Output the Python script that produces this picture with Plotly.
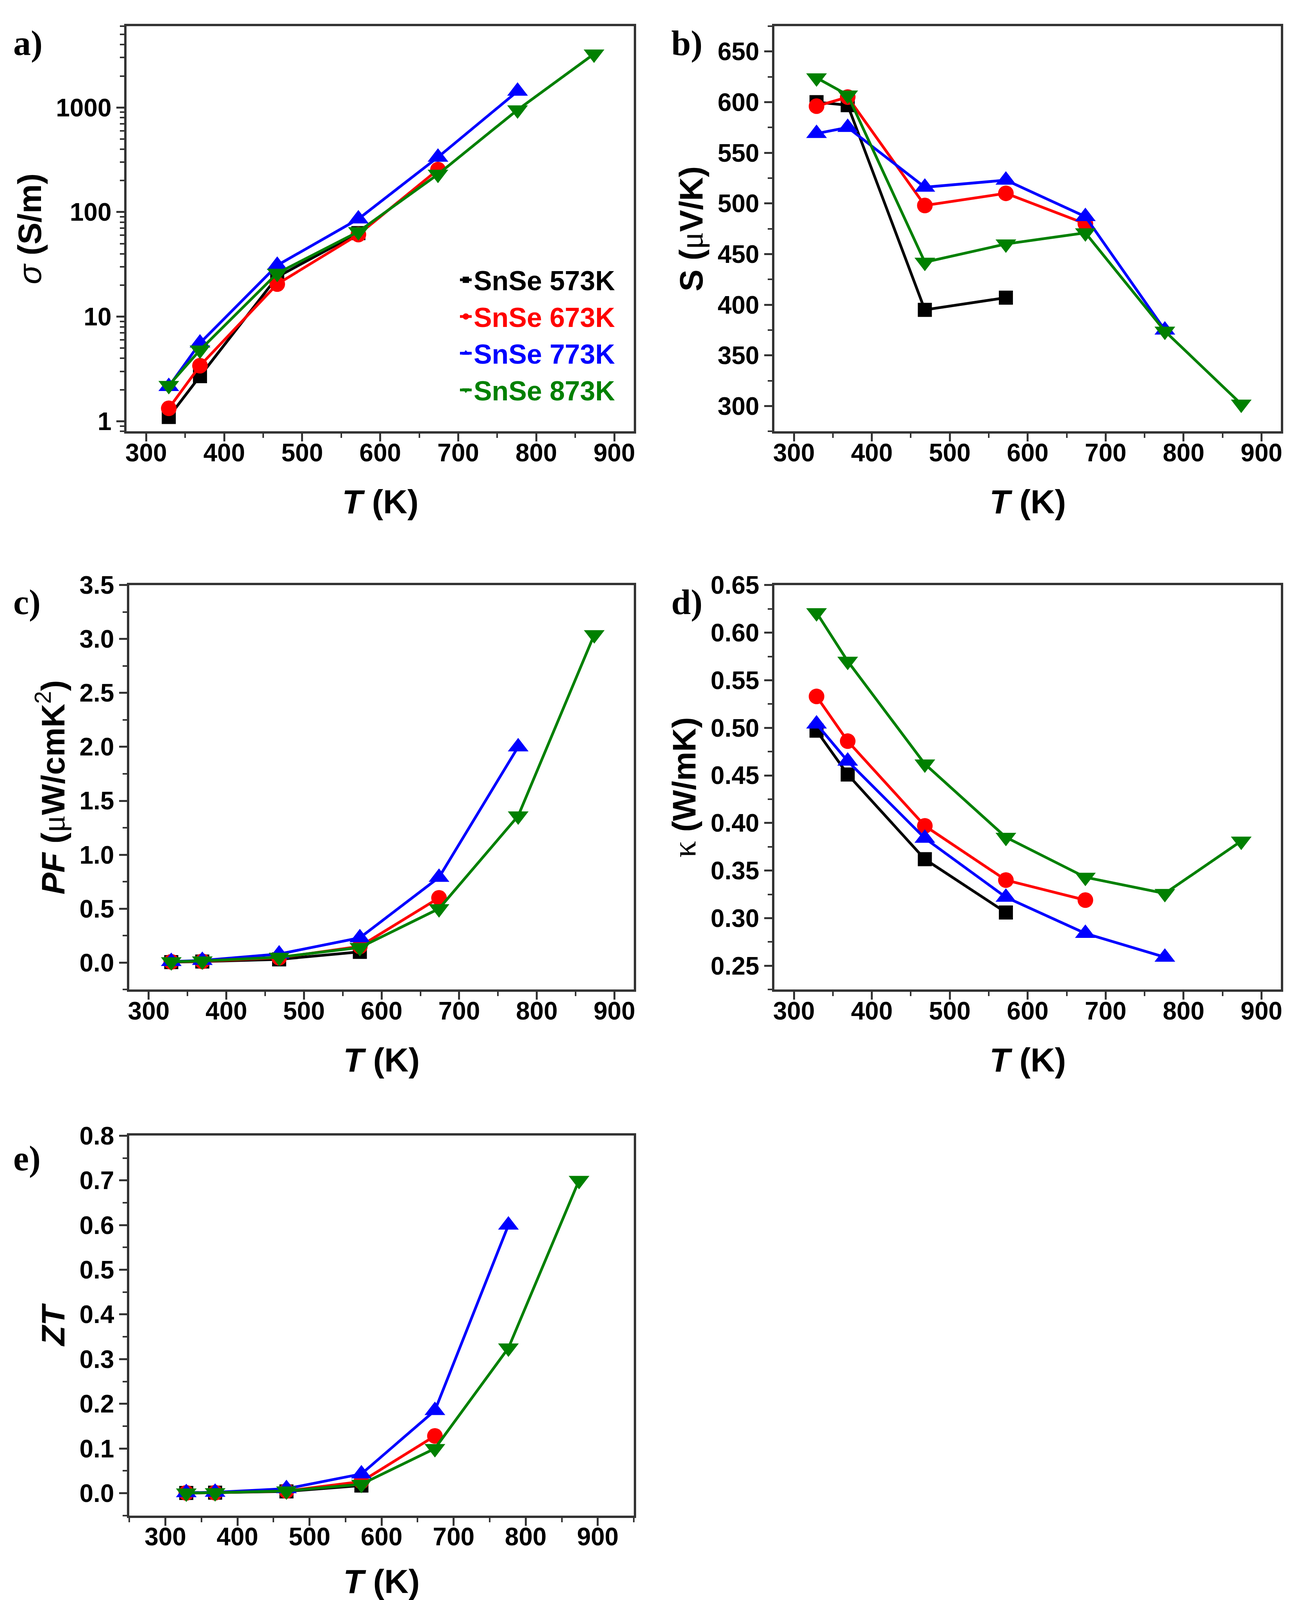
import plotly.graph_objects as go

# measurement temperatures (K)
T = [329, 369, 468, 572, 674, 776, 874]

names = ['SnSe 573K', 'SnSe 673K', 'SnSe 773K', 'SnSe 873K']
colors = ['#000000', '#ff0000', '#0000ff', '#008000']
symbols = ['square', 'circle', 'triangle-up', 'triangle-down']
msizes = [36, 40, 46, 46]

# a) electrical conductivity (S/m)
sigma_573 = [1.1, 2.7, 24, 63]
sigma_673 = [1.33, 3.4, 20.5, 61, 255]
sigma_773 = [2.15, 5.6, 31, 86, 335, 1430]
sigma_873 = [2.2, 4.8, 26, 65, 230, 950, 3250]

# b) Seebeck coefficient (uV/K)
S_573 = [600, 597, 395, 407]
S_673 = [596, 605, 498, 510, 480]
S_773 = [569, 575, 516, 523, 487, 375]
S_873 = [624, 607, 442, 460, 471, 374, 302]

# c) power factor (uW/cmK^2)
PF_573 = [0.005, 0.01, 0.03, 0.10]
PF_673 = [0.007, 0.012, 0.045, 0.15, 0.60]
PF_773 = [0.01, 0.02, 0.08, 0.23, 0.79, 2.0]
PF_873 = [0.008, 0.015, 0.05, 0.14, 0.50, 1.36, 3.04]

# d) thermal conductivity (W/mK)
kappa_573 = [0.497, 0.451, 0.362, 0.306]
kappa_673 = [0.533, 0.486, 0.397, 0.340, 0.319]
kappa_773 = [0.504, 0.465, 0.384, 0.322, 0.284, 0.259]
kappa_873 = [0.621, 0.570, 0.462, 0.385, 0.343, 0.326, 0.381]

# e) ZT
ZT_573 = [0.0005, 0.001, 0.004, 0.017]
ZT_673 = [0.0006, 0.001, 0.005, 0.026, 0.128]
ZT_773 = [0.001, 0.002, 0.01, 0.043, 0.185, 0.60]
ZT_873 = [0.0005, 0.001, 0.005, 0.02, 0.10, 0.325, 0.70]

SANS = 'Liberation Sans, Arial, sans-serif'
SERIF = 'Liberation Serif, Times New Roman, serif'
FRAME = '#333333'
MU = '<span style="font-family:Liberation Serif">μ</span>'
W, H = 3306, 4208

panels = [
    # (series, axis suffix, label, y title, y range, dtick, minor dtick, tickformat, log,
    #  x range, xdomain, ydomain, x-title drop in px)
    ([sigma_573, sigma_673, sigma_773, sigma_873], '', 'a)',
     '<i>σ</i> <b>(S/m)</b>', [-0.097, 3.778], None, None, None, True,
     [275, 925], [0.0947, 0.4885], [0.7452, 0.9945], 182),
    ([S_573, S_673, S_773, S_873], '2', 'b)',
     '<b>S (</b>' + MU + '<b>V/K)</b>', [275, 675], 50, 25, 'd', False,
     [275, 925], [0.5977, 0.991], [0.7452, 0.9945], 182),
    ([PF_573, PF_673, PF_773, PF_873], '3', 'c)',
     '<b><i>PF</i> (</b>' + MU + '<b>W/cmK</b><sup>2</sup><b>)</b>',
     [-0.25, 3.5], 0.5, 0.25, '.1f', False,
     [275, 925], [0.0968, 0.4885], [0.4019, 0.6507], 182),
    ([kappa_573, kappa_673, kappa_773, kappa_873], '4', 'd)',
     '<span style="font-family:Liberation Serif">κ</span> <b>(W/mK)</b>',
     [0.225, 0.65], 0.05, 0.025, '.2f', False,
     [275, 925], [0.5977, 0.991], [0.4019, 0.6507], 182),
    ([ZT_573, ZT_673, ZT_773, ZT_873], '5', 'e)',
     '<b><i>ZT</i></b>', [-0.05, 0.8], 0.1, 0.05, '.1f', False,
     [250, 950], [0.0968, 0.4885], [0.0784, 0.3120], 170),
]

fig = go.Figure()

for series, ax, label, ytitle, yrange, dtick, mdtick, tfmt, islog, xrange_, xdom, ydom, drop in panels:
    for i, vals in enumerate(series):
        fig.add_trace(go.Scatter(
            x=T[:len(vals)], y=vals, mode='lines+markers',
            name='<span style="color:%s">%s</span>' % (colors[i], names[i]),
            legendgroup=names[i], showlegend=(ax == ''),
            line=dict(color=colors[i], width=7),
            marker=dict(symbol=symbols[i], size=msizes[i], color=colors[i]),
            xaxis='x' + ax, yaxis='y' + ax))

    xa = dict(domain=xdom, range=xrange_, anchor='y' + ax,
              tick0=300, dtick=100, ticks='outside', ticklen=20, tickwidth=5, tickcolor=FRAME,
              ticklabelstandoff=-26,
              minor=dict(ticks='outside', dtick=50, ticklen=11, tickwidth=4, tickcolor=FRAME, showgrid=False),
              showline=True, linewidth=6, linecolor=FRAME, mirror=True,
              showgrid=False, zeroline=False,
              tickfont=dict(family=SANS, size=64, color='black', weight='bold'))
    ya = dict(domain=ydom, range=yrange, anchor='x' + ax,
              ticks='outside', ticklen=20, tickwidth=5, tickcolor=FRAME,
              showline=True, linewidth=6, linecolor=FRAME, mirror=True,
              showgrid=False, zeroline=False,
              tickfont=dict(family=SANS, size=64, color='black', weight='bold'),
              title=dict(text=ytitle, standoff=12,
                         font=dict(family=SANS, size=84, color='black')))
    if islog:
        ya.update(type='log', tickvals=[1, 10, 100, 1000], ticktext=['1', '10', '100', '1000'],
                  minor=dict(ticks='outside', dtick='D1', ticklen=11, tickwidth=4,
                             tickcolor=FRAME, showgrid=False))
    else:
        ya.update(dtick=dtick, tickformat=tfmt,
                  minor=dict(ticks='outside', dtick=mdtick, ticklen=11, tickwidth=4,
                             tickcolor=FRAME, showgrid=False))
    fig.update_layout({'xaxis' + ax: xa, 'yaxis' + ax: ya})

    # x-axis title placed below the tick labels
    fig.add_annotation(text='<b><i>T</i> (K)</b>', xref='paper', yref='paper',
                       x=(xdom[0] + xdom[1]) / 2, y=ydom[0] - drop / H,
                       xanchor='center', yanchor='middle', showarrow=False,
                       font=dict(family=SANS, size=86, color='black'))

# panel letters
letter_pos = {'a)': (0.006, 0.984), 'b)': (0.517, 0.984), 'c)': (0.006, 0.640),
              'd)': (0.517, 0.640), 'e)': (0.006, 0.298)}
for p in panels:
    lx, ly = letter_pos[p[2]]
    fig.add_annotation(text=p[2], x=lx, y=ly, xref='paper', yref='paper',
                       xanchor='left', yanchor='middle', showarrow=False,
                       font=dict(family=SERIF, size=90, color='black', weight='bold'))

fig.update_layout(
    width=W, height=H, autosize=False,
    margin=dict(l=0, r=0, t=0, b=0),
    paper_bgcolor='white', plot_bgcolor='white',
    legend=dict(x=0.352, y=0.851, xanchor='left', yanchor='top',
                bgcolor='rgba(0,0,0,0)', tracegroupgap=0,
                font=dict(family=SANS, size=70, weight='bold')),
)

fig.write_html("out.html")
